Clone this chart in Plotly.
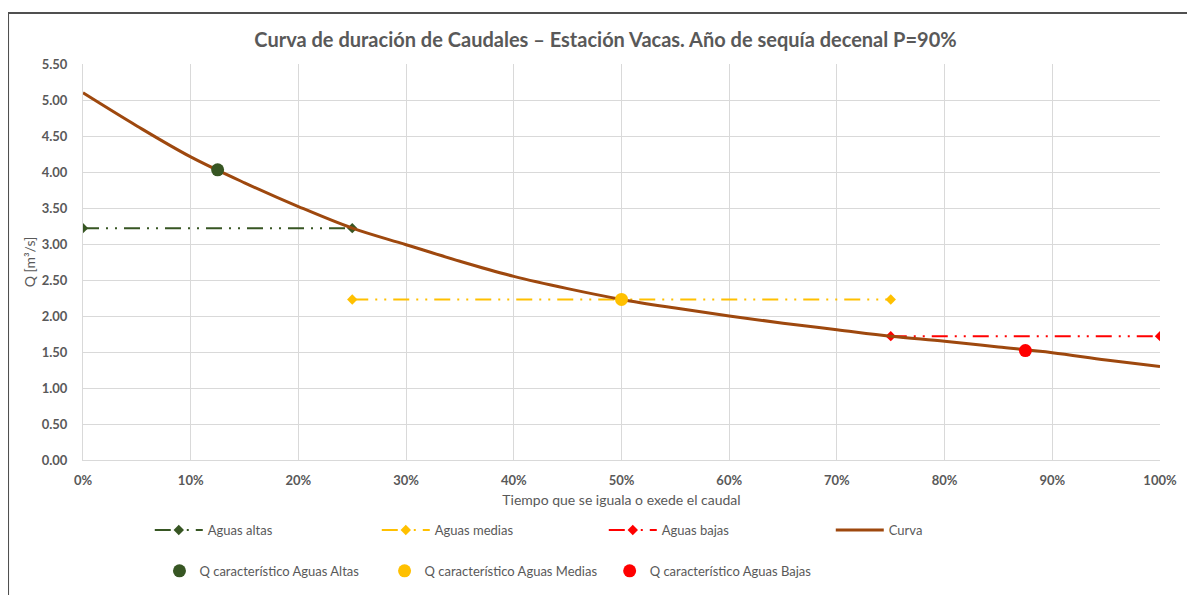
import plotly.graph_objects as go

# Curva de duración de caudales - Estación Vacas, P=90%
tiempo = [0, 5, 10, 15, 20, 25, 30, 35, 40, 45, 50, 55, 60, 65, 70, 75, 80, 85, 90, 95, 100]
caudal = [5.10, 4.64, 4.21, 3.85, 3.52, 3.22, 2.99, 2.76, 2.55, 2.38, 2.23, 2.11, 2.00,
          1.90, 1.81, 1.72, 1.65, 1.57, 1.49, 1.39, 1.30]

altas_x = [0, 25]
altas_y = [3.22, 3.22]
medias_x = [25, 75]
medias_y = [2.23, 2.23]
bajas_x = [75, 100]
bajas_y = [1.72, 1.72]

q_altas = (12.5, 4.03)
q_medias = (50, 2.23)
q_bajas = (87.5, 1.52)

y_ticks = [0, 0.5, 1.0, 1.5, 2.0, 2.5, 3.0, 3.5, 4.0, 4.5, 5.0, 5.5]
x_ticks = [0, 10, 20, 30, 40, 50, 60, 70, 80, 90, 100]

VERDE = "#375623"
AMARILLO = "#FFC000"
ROJO = "#FF0000"
CAFE = "#9E480E"
GRIS = "#595959"
DASH = "16px,7px,2px,7px,2px,7px"
FUENTE = "Lato, Liberation Sans, sans-serif"

fig = go.Figure()

for nombre, xs, ys, col in [("Aguas altas", altas_x, altas_y, VERDE),
                            ("Aguas medias", medias_x, medias_y, AMARILLO),
                            ("Aguas bajas", bajas_x, bajas_y, ROJO)]:
    fig.add_trace(go.Scatter(x=xs, y=ys, name=nombre, mode="lines+markers",
                             line=dict(color=col, width=2, dash=DASH),
                             marker=dict(symbol="diamond", size=8, color=col),
                             legend="legend"))

fig.add_trace(go.Scatter(x=tiempo, y=caudal, name="Curva", mode="lines",
                         line=dict(color=CAFE, width=3, shape="spline"),
                         legend="legend"))

for nombre, pt, col, leg in [("Q característico Aguas Altas", q_altas, VERDE, "legend2"),
                             ("Q característico Aguas Medias", q_medias, AMARILLO, "legend3"),
                             ("Q característico Aguas Bajas", q_bajas, ROJO, "legend4")]:
    fig.add_trace(go.Scatter(x=[pt[0]], y=[pt[1]], name=nombre, mode="markers",
                             marker=dict(symbol="circle", size=13, color=col),
                             legend=leg))

legfont = dict(family=FUENTE, size=13, color=GRIS)
# the page body has an 8px margin, margins are shifted to compensate
fig.update_layout(
    width=1195, height=595,
    margin=dict(l=75, r=43, t=56, b=143),
    paper_bgcolor="white", plot_bgcolor="white",
    title=dict(text="<b>Curva de duración de Caudales – Estación Vacas. Año de sequía decenal P=90%</b>",
               x=0.5, xref="container", y=0.946, yanchor="middle",
               font=dict(family=FUENTE, size=20, color=GRIS)),
    xaxis=dict(range=[0, 100], tickvals=x_ticks, ticktext=[f"{v}%" for v in x_ticks],
               showgrid=True, gridcolor="#D9D9D9", gridwidth=1, zeroline=False,
               showline=True, linecolor="#D9D9D9", ticks="", ticklabelstandoff=8,
               tickfont=dict(family=FUENTE, size=13, color=GRIS, weight="bold"),
               title=dict(text="Tiempo que se iguala o exede el caudal", standoff=8,
                          font=dict(family=FUENTE, size=14, color=GRIS))),
    yaxis=dict(range=[0, 5.5], tickvals=y_ticks, tickformat=".2f",
               showgrid=True, gridcolor="#D9D9D9", gridwidth=1, zeroline=False,
               showline=True, linecolor="#D9D9D9", ticks="", ticklabelstandoff=12,
               tickfont=dict(family=FUENTE, size=13, color=GRIS, weight="bold"),
               title=dict(text="Q [m³/s]", standoff=2,
                          font=dict(family=FUENTE, size=14, color=GRIS))),
    legend=dict(orientation="h", x=0.062, y=-0.177, xanchor="left", yanchor="middle",
                itemwidth=48, entrywidth=164, entrywidthmode="pixels",
                font=legfont, bgcolor="rgba(0,0,0,0)"),
    legend2=dict(orientation="h", x=0.071, y=-0.28, xanchor="left", yanchor="middle",
                 font=legfont, bgcolor="rgba(0,0,0,0)"),
    legend3=dict(orientation="h", x=0.280, y=-0.28, xanchor="left", yanchor="middle",
                 font=legfont, bgcolor="rgba(0,0,0,0)"),
    legend4=dict(orientation="h", x=0.489, y=-0.28, xanchor="left", yanchor="middle",
                 font=legfont, bgcolor="rgba(0,0,0,0)"),
    showlegend=True,
)

# marco exterior del gráfico
fig.add_shape(type="rect", xref="paper", yref="paper",
              x0=-0.0696, x1=1.0306, y0=-0.6, y1=1.1288,
              line=dict(color="#505050", width=2), layer="below")

fig.write_html("out.html")
